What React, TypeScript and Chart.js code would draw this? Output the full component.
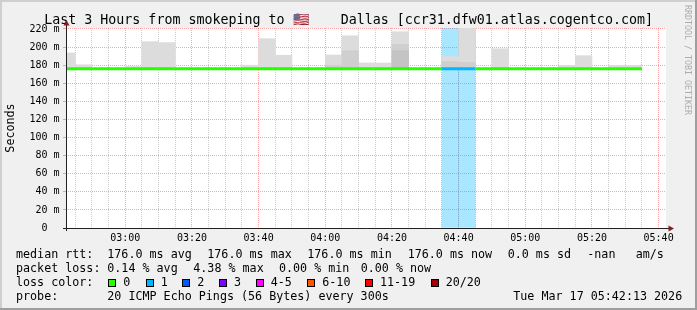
import React, { useEffect, useRef } from 'react';
import { Chart, registerables } from 'chart.js';

Chart.register(...registerables);

// ---------- data ----------
const SLOT_STARTS = [
  '02:40', '02:45', '02:50', '02:55', '03:00', '03:05', '03:10', '03:15', '03:20', '03:25',
  '03:30', '03:35', '03:40', '03:45', '03:50', '03:55', '04:00', '04:05', '04:10', '04:15',
  '04:20', '04:25', '04:30', '04:35', '04:40', '04:45', '04:50', '04:55', '05:00', '05:05',
  '05:10', '05:15', '05:20', '05:25', '05:30',
];
const MEDIAN_MS = [
  176, 176, 176, 176, 176, 176, 176, 176, 176, 176,
  176, 176, 176, 176, 176, 176, 176, 176, 176, 176,
  176, 176, 176, 176, 176, 176, 176, 176, 176, 176,
  176, 176, 176, 176, 176,
];
const SMOKE_MAX_MS = [
  193.5, 180.5, 177, 177, 178.5, 206, 205, 177, 177, 177,
  177, 180, 209.3, 191, 177, 177, 191.2, 212.5, 182.5, 182.3,
  217, 177, 177, 189.5, 235, 177, 198.2, 177, 177, 177,
  179.5, 190.5, 177, 179.5, 179.5,
];
const SMOKE_MID_MS: (number | null)[] = [
  null, null, null, null, null, null, null, null, null, null,
  null, null, null, null, null, null, 180, 196, null, null,
  203, null, null, 184, 183, null, null, null, null, null,
  null, null, null, null, null,
];
const SMOKE_DARK_MS: (number | null)[] = [
  null, null, null, null, null, null, null, null, null, null,
  null, null, null, null, null, null, null, null, null, null,
  196, null, null, null, null, null, null, null, null, null,
  null, null, null, null, null,
];
const LOSS_PCT = [
  0, 0, 0, 0, 0, 0, 0, 0, 0, 0,
  0, 0, 0, 0, 0, 0, 0, 0, 0, 0,
  0, 0, 0, 4.38, 0.62, 0, 0, 0, 0, 0,
  0, 0, 0, 0, 0,
];

const X_TICK_LABELS = ['03:00', '03:20', '03:40', '04:00', '04:20', '04:40', '05:00', '05:20', '05:40'];
const Y_TICK_LABELS = ['0', '20 m', '40 m', '60 m', '80 m', '100 m', '120 m', '140 m', '160 m', '180 m', '200 m', '220 m'];
const Y_TICK_VALUES = [0, 20, 40, 60, 80, 100, 120, 140, 160, 180, 200, 220];

const RANGE_START = '02:42:13';
const RANGE_END = '05:42:13';
const Y_MAX = 221.1;

const LOSS_LABELS = ['0', '1', '2', '3', '4-5', '6-10', '11-19', '20/20'];
const LOSS_COLORS = ['#26ff00', '#00b8ff', '#0059ff', '#7e00ff', '#ff00ff', '#ff5500', '#ff0000', '#a10000'];
const LOSS_BG = ['rgba(38,255,0,0.34)', 'rgba(0,184,255,0.34)', 'rgba(0,89,255,0.34)', 'rgba(126,0,255,0.34)', 'rgba(255,0,255,0.34)', 'rgba(255,85,0,0.34)', 'rgba(255,0,0,0.34)', 'rgba(161,0,0,0.34)'];

const TITLE_PARTS = ['Last 3 Hours from smokeping to', '\u{1F1FA}\u{1F1F8}', 'Dallas [ccr31.dfw01.atlas.cogentco.com]'];
const LEGEND_RTT = ['median rtt:', '176.0 ms avg', '176.0 ms max', '176.0 ms min', '176.0 ms now', '0.0 ms sd', '-nan', 'am/s'];
const LEGEND_LOSS = ['packet loss:', '0.14 % avg', '4.38 % max', '0.00 % min', '0.00 % now'];
const LEGEND_PROBE = ['probe:', '20 ICMP Echo Pings (56 Bytes) every 300s', 'Tue Mar 17 05:42:13 2026'];

// ---------- helpers ----------
const toMin = (s: string) => {
  const p = s.split(':').map(Number);
  return p[0] * 60 + p[1] + (p[2] || 0) / 60;
};
const lossBucket = (pct: number) => {
  if (pct <= 0) return 0;
  const n = Math.ceil((pct / 100) * 20 - 1e-9);
  if (n <= 1) return 1;
  if (n === 2) return 2;
  if (n === 3) return 3;
  if (n <= 5) return 4;
  if (n <= 10) return 5;
  if (n <= 19) return 6;
  return 7;
};

const MONO = '"DejaVu Sans Mono", monospace';
const MAJOR = 'rgba(255, 40, 40, 0.42)';
const MINOR = 'rgba(0, 0, 0, 0.2)';

const X_MIN = toMin(RANGE_START);
const X_MAX = toMin(RANGE_END);
const X_MAJOR = X_TICK_LABELS.map(toMin);
const X_GRID: number[] = [];
for (let m = Math.ceil(X_MIN / 5) * 5; m <= X_MAX; m += 5) X_GRID.push(m);
const Y_GRID: number[] = [];
for (let v = 0; v <= 220; v += 10) Y_GRID.push(v);

const decorPlugin = {
  id: 'rrdDecor',
  beforeDraw(chart: any) {
    const { ctx, chartArea: a, width, height } = chart;
    ctx.save();
    ctx.fillStyle = '#f0f0f0';
    ctx.fillRect(0, 0, width, height);
    ctx.fillStyle = '#cfcfcf';
    ctx.fillRect(0, 0, width, 2);
    ctx.fillRect(0, 0, 2, height);
    ctx.fillStyle = '#9e9e9e';
    ctx.fillRect(0, height - 2, width, 2);
    ctx.fillRect(width - 2, 0, 2, height);
    ctx.fillStyle = '#ffffff';
    ctx.fillRect(a.left, a.top, a.right - a.left, a.bottom - a.top);
    ctx.restore();
  },
  afterDraw(chart: any) {
    const { ctx, chartArea: a } = chart;
    ctx.save();

    ctx.fillStyle = '#000';
    ctx.textBaseline = 'alphabetic';
    ctx.textAlign = 'left';
    // title
    ctx.font = `13.3px ${MONO}`;
    ctx.fillText(TITLE_PARTS[0], 44.3, 24);
    ctx.fillText(TITLE_PARTS[1], 293, 24);
    ctx.fillText(TITLE_PARTS[2], 340.7, 24);

    // axes
    ctx.strokeStyle = '#202020';
    ctx.lineWidth = 1;
    ctx.beginPath();
    ctx.moveTo(a.left - 3, a.bottom + 0.5);
    ctx.lineTo(a.right + 4, a.bottom + 0.5);
    ctx.moveTo(a.left + 0.5, a.bottom + 3);
    ctx.lineTo(a.left + 0.5, a.top - 4);
    ctx.stroke();
    ctx.fillStyle = '#7f1f1f';
    ctx.beginPath();
    ctx.moveTo(a.left + 0.5, a.top - 8);
    ctx.lineTo(a.left - 2.5, a.top - 2.5);
    ctx.lineTo(a.left + 3.5, a.top - 2.5);
    ctx.closePath();
    ctx.fill();
    ctx.beginPath();
    ctx.moveTo(a.right + 8, a.bottom + 0.5);
    ctx.lineTo(a.right + 2.5, a.bottom - 2.5);
    ctx.lineTo(a.right + 2.5, a.bottom + 3.5);
    ctx.closePath();
    ctx.fill();

    ctx.fillStyle = '#000';
    // unit label
    ctx.save();
    ctx.font = `11.7px ${MONO}`;
    ctx.translate(11, 128);
    ctx.rotate(-Math.PI / 2);
    ctx.textAlign = 'center';
    ctx.textBaseline = 'middle';
    ctx.fillText('Seconds', 0, 0);
    ctx.restore();

    // watermark
    ctx.save();
    ctx.font = `8.3px ${MONO}`;
    ctx.fillStyle = '#acacac';
    ctx.translate(687, 5);
    ctx.rotate(Math.PI / 2);
    ctx.textAlign = 'left';
    ctx.textBaseline = 'middle';
    ctx.fillText('RRDTOOL / TOBI OETIKER', 0, 0);
    ctx.restore();

    // legend
    ctx.font = `11.7px ${MONO}`;
    const rttX = [16, 107.3, 207.3, 307.3, 407.7, 507.7, 587.3, 635.7];
    LEGEND_RTT.forEach((t, i) => ctx.fillText(t, rttX[i], 258));
    const lossX = [16, 107.3, 193.3, 279, 360.7];
    LEGEND_LOSS.forEach((t, i) => ctx.fillText(t, lossX[i], 272));
    ctx.fillText('loss color:', 16, 286);
    const boxX = [108.3, 145.7, 182.3, 219, 255.7, 307.3, 365, 430.7];
    LOSS_LABELS.forEach((t, i) => {
      const bx = Math.round(boxX[i]);
      ctx.fillStyle = LOSS_COLORS[i];
      ctx.fillRect(bx, 279, 8, 8);
      ctx.strokeStyle = '#000';
      ctx.strokeRect(bx + 0.5, 279.5, 7, 7);
      ctx.fillStyle = '#000';
      ctx.fillText(t, boxX[i] + 15, 286);
    });
    const probeX = [16, 107.3, 513.3];
    LEGEND_PROBE.forEach((t, i) => ctx.fillText(t, probeX[i], 300));
    ctx.restore();
  },
};

export default function App() {
  const ref = useRef<HTMLCanvasElement>(null);

  useEffect(() => {
    const starts = SLOT_STARTS.map(toMin);
    const centers = starts.map((s) => s + 2.5);

    const medianPts = SLOT_STARTS.map((_, i) => ({ x: starts[i], y: MEDIAN_MS[i] }));
    medianPts.push({ x: starts[starts.length - 1] + 5, y: MEDIAN_MS[MEDIAN_MS.length - 1] });

    const floating = (arr: (number | null)[]) =>
      arr
        .map((v, i) => (v == null ? null : { x: centers[i], y: [MEDIAN_MS[i], v] }))
        .filter((d) => d !== null);

    const lossIdx = LOSS_PCT.map((p, i) => (p > 0 ? i : -1)).filter((i) => i >= 0);
    const lossData = lossIdx.map((i) => ({ x: centers[i], y: [0, Y_MAX] }));
    const lossBg = lossIdx.map((i) => LOSS_BG[lossBucket(LOSS_PCT[i])]);

    const barCommon = { type: 'bar', grouped: false, barPercentage: 1, categoryPercentage: 1, borderWidth: 0, clip: 0 };

    const chart = new Chart(ref.current as HTMLCanvasElement, {
      type: 'bar',
      data: {
        datasets: [
          {
            type: 'line',
            label: 'median rtt',
            data: medianPts,
            stepped: 'after',
            borderWidth: 3,
            pointRadius: 0,
            borderColor: LOSS_COLORS[0],
            segment: { borderColor: (c: any) => LOSS_COLORS[lossBucket(LOSS_PCT[c.p0DataIndex] || 0)] },
            order: 0,
            clip: 0,
          } as any,
          { ...barCommon, label: 'smoke dark', data: floating(SMOKE_DARK_MS), backgroundColor: '#c4c4c4', order: 1 } as any,
          { ...barCommon, label: 'smoke mid', data: floating(SMOKE_MID_MS), backgroundColor: '#cfcfcf', order: 2 } as any,
          { ...barCommon, label: 'smoke', data: floating(SMOKE_MAX_MS), backgroundColor: '#dcdcdc', order: 3 } as any,
          { ...barCommon, label: 'loss', data: lossData, backgroundColor: lossBg, order: 4 } as any,
        ],
      },
      options: {
        responsive: false,
        animation: false,
        devicePixelRatio: 1,
        events: [],
        layout: { padding: { left: 0, right: 31, top: 28, bottom: 0 } },
        plugins: { legend: { display: false }, tooltip: { enabled: false }, title: { display: false } },
        scales: {
          x: {
            type: 'linear',
            min: X_MIN,
            max: X_MAX,
            offset: false,
            z: 1,
            afterFit: (s: any) => { s.height = 82; },
            afterBuildTicks: (s: any) => { s.ticks = X_GRID.map((v) => ({ value: v })); },
            grid: {
              offset: false,
              drawTicks: false,
              lineWidth: 1,
              color: (c: any) => (X_MAJOR.some((m) => Math.abs(m - c.tick.value) < 1e-6) ? MAJOR : MINOR),
            },
            border: { display: false, dash: [1, 1] },
            ticks: {
              autoSkip: false,
              maxRotation: 0,
              minRotation: 0,
              padding: 4,
              color: '#000',
              font: { family: MONO, size: 10 },
              callback: (v: any) => {
                const k = X_MAJOR.findIndex((m) => Math.abs(m - Number(v)) < 1e-6);
                return k >= 0 ? X_TICK_LABELS[k] : '';
              },
            },
          },
          y: {
            type: 'linear',
            min: 0,
            max: Y_MAX,
            z: 1,
            afterFit: (s: any) => { s.width = 66; },
            afterBuildTicks: (s: any) => { s.ticks = Y_GRID.map((v) => ({ value: v })); },
            grid: {
              drawTicks: true,
              tickLength: 3,
              lineWidth: 1,
              color: (c: any) => (c.tick.value % 20 === 0 ? MAJOR : MINOR),
              tickColor: (c: any) => (c.tick.value % 20 === 0 ? MAJOR : MINOR),
            },
            border: { display: false, dash: [1, 1] },
            ticks: {
              padding: 3.5,
              color: '#000',
              font: { family: MONO, size: 10 },
              callback: (v: any) => {
                const k = Y_TICK_VALUES.indexOf(Number(v));
                if (k < 0) return '';
                return k === 0 ? Y_TICK_LABELS[0] + '  ' : Y_TICK_LABELS[k];
              },
            },
          },
        },
      },
      plugins: [decorPlugin],
    } as any);

    return () => chart.destroy();
  }, []);

  return (
    <div style={{ position: 'absolute', left: 0, top: 0, width: 697, height: 310 }}>
      <canvas ref={ref} width={697} height={310} style={{ display: 'block', width: 697, height: 310 }} />
    </div>
  );
}
